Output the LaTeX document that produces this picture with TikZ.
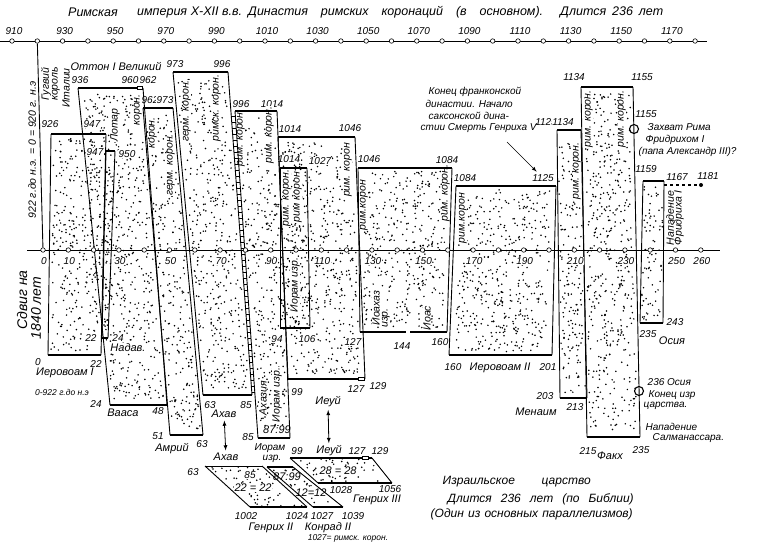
\documentclass[tikz,border=0pt]{standalone}
\usepackage{fontspec}
\setmainfont{Liberation Sans}
\usepackage{tikz}
\usetikzlibrary{arrows,shapes}
\tikzstyle{roman}=[line width=2.4pt]
\tikzstyle{side}=[line width=0.9pt]
\tikzstyle{axis}=[line width=1pt]
\tikzstyle{tick}=[circle,draw,fill=white,line width=0.6pt,minimum size=4.5pt,inner sep=0pt]
\tikzstyle{num}=[fill=white,inner sep=0.5pt,font=\fontsize{10}{11}\selectfont\itshape]
\tikzstyle{lab}=[fill=white,inner sep=0.5pt,font=\fontsize{11}{12}\selectfont\itshape]
\tikzstyle{small}=[fill=white,inner sep=0.5pt,font=\fontsize{8.5}{9}\selectfont\itshape]
\tikzstyle{vlab}=[fill=white,inner sep=0.5pt,rotate=90,font=\fontsize{10.5}{11}\selectfont\itshape]
\tikzstyle{note}=[inner sep=0.5pt,anchor=west,font=\fontsize{10}{11}\selectfont\itshape]
\tikzstyle{ttl}=[inner sep=0pt,anchor=west,font=\fontsize{12.5}{14}\selectfont\itshape]
\tikzstyle{ring}=[circle,draw,line width=1.1pt,minimum size=9pt,inner sep=0pt]
\tikzstyle{arr}=[latex-latex,line width=0.8pt,shorten >=2pt,shorten <=2pt]
% blocks: top left / top right / top y / bottom left / bottom right / bottom y / top edge
\newcommand{\blocks}{51/106/134/48/101/355/roman, 106/115/151/102/108/338/roman,
  78/143/88/110/167/405/roman, 143/173/108/170/203/435/roman,
  173/228/72/203/252/395/roman, 235/277/111/258/290/438/roman,
  278/355/137/288/365/379/roman, 280/307/168/280/310/328/roman,
  358/452/168/360/447/332/roman, 456/556/186/449/552/355/roman,
  557/581/130/560/587/398/roman, 581/633/87/587/640/437/roman,
  643/664/181/640/663/323/roman,
  205/262/466/250/307/507/side, 267/293/467/313/343/507/roman,
  290/372/458/318/392/483/roman}

\begin{document}
\begin{tikzpicture}[x=1pt,y=-1pt]
    \useasboundingbox (0,0) rectangle (759,547);
    % First we stipple every block
    \pgfmathsetseed{1840}
    \foreach \xa/\xb/\ya/\xc/\xd/\yb/\st in \blocks {
        \pgfmathtruncatemacro\nd{(((\xb-\xa)+(\xd-\xc))/80)*(\yb-\ya)}
        \foreach \i in {1,...,\nd} {
            \pgfmathsetmacro\vv{0.02+0.96*rnd}
            \pgfmathsetmacro\uu{0.05+0.9*rnd}
            \pgfmathsetmacro\yy{\ya+\vv*(\yb-\ya)}
            \pgfmathsetmacro\xl{\xa+\vv*(\xc-\xa)}
            \pgfmathsetmacro\xr{\xb+\vv*(\xd-\xb)}
            \fill ({\xl+\uu*(\xr-\xl)},\yy) circle (0.85);
        }
    }
    % Title
    \node[ttl] (t1) at (68,12) {Римская};
    \node[ttl] (t2) at (137,12) {\makebox[105pt][s]{империя X-XII в.в.}};
    \node[ttl] (t3) at (248,12) {\makebox[295pt][s]{Династия римских коронаций (в основном).}};
    \node[ttl] (t4) at (560,12) {\makebox[103pt][s]{Длится 236 лет}};
    % Years of the blocks
    \foreach \pos/\txt [count=\k] in {{(50,124)/926}, {(92,124)/947}, {(95,152)/947}, {(127,154)/950},
        {(80,80)/936}, {(130,80)/960}, {(148,80)/962}, {(175,64)/973}, {(222,64)/996},
        {(150,100)/962}, {(165,100)/973}, {(241,104)/996}, {(272,104)/1014},
        {(290,129)/1014}, {(350,128)/1046}, {(289,159)/1014}, {(320,161)/1027}, {(369,159)/1046},
        {(447,160)/1084}, {(465,178)/1084}, {(546,122)/1125}, {(563,122)/1134},
        {(574,77)/1134}, {(642,77)/1155}, {(646,114)/1155}, {(646,169)/1159}, {(677,177)/1167}, {(708,176)/1181},
        {(38,362)/0}, {(96,364)/22}, {(91,338)/22}, {(118,338)/24}, {(96,404)/24}, {(158,411)/48},
        {(158,436)/51}, {(202,444)/63}, {(210,405)/63}, {(246,405)/85}, {(248,437)/85},
        {(277,339)/94}, {(307,339)/106}, {(297,392)/99}, {(356,389)/127}, {(378,386)/129},
        {(353,342)/127}, {(402,346)/144}, {(440,342)/160}, {(453,367)/160}, {(548,367)/201},
        {(545,396)/203}, {(575,407)/213}, {(675,322)/243}, {(648,334)/235}, {(588,451)/215}, {(641,450)/235},
        {(193,472)/63}, {(250,475)/85}, {(297,451)/99}, {(357,451)/127}, {(380,451)/129},
        {(341,490)/1028}, {(390,489)/1056}, {(246,516)/1002}, {(297,516)/1024}, {(322,516)/1027}, {(353,516)/1039}}
        \node[num] (n\k) at \pos {\txt};
    \node[num] (n1125) at (543,178) {1125};
    % Names of the kings
    \foreach \pos/\txt [count=\k] in {{(116,66)/Оттон I Великий}, {(128,348)/Надав.}, {(123,413)/Вааса},
        {(172,449)/Амрий}, {(65,373)/Иеровоам I},
        {(500,368)/Иеровоам II}, {(536,412)/Менаим}, {(610,456)/Факх}, {(672,341)/Осия},
        {(377,500)/Генрих III}, {(271,528)/Генрих II}, {(328,528)/Конрад II},
        {(253,488)/22 = 22}, {(287,477)/87:99}, {(311,493)/12=12}, {(338,471)/28 = 28}, {(277,430)/87:99}}
        \node[lab] (l\k) at \pos {\txt};
    \node[num] (jor1) at (270,448) {Иорам};
    \node[num] (jor2) at (272,459) {изр.};
    \node[small] (s1) at (62,392) {0-922 г.до н.э};
    \node[small] (s2) at (348,538) {1027= римск. корон.};
    \node[lab] (a1) at (224,414) {Ахав};
    \node[lab] (a2) at (226,457) {Ахав};
    \node[lab] (j1) at (328,402) {Иеуй};
    \node[lab] (j2) at (329,451) {Иеуй};
    % Vertical texts
    \foreach \pos/\txt [count=\k] in {{(46,84)/Гугвий}, {(56,84)/король}, {(66,88)/Италии},
        {(115,125)/Лотар}, {(138,110)/корон.}, {(153,133)/корон.}, {(171,165)/герм. корон.},
        {(187,111)/герм. корон.}, {(217,108)/римск. корон.}, {(241,138)/рим. корон.}, {(270,135)/рим. корон.},
        {(287,198)/рим. корон.}, {(298,197)/рим корон}, {(295,285)/Иорам изр.}, {(348,170)/рим. корон},
        {(364,205)/рим.корон}, {(446,193)/рим. корон.}, {(376,308)/Иоахаз}, {(386,318)/изр.}, {(427,318)/Иоас},
        {(463,218)/рим.корон}, {(577,171)/рим. корон.}, {(589,119)/рим. корон.}, {(622,119)/рим. корон.},
        {(670,218)/Нападение}, {(679,218)/Фридриха I}, {(263,398)/Ахазия}, {(277,395)/Иорам изр.}}
        \node[vlab] (v\k) at \pos {\txt};
    \node[vlab] (v922) at (32,150) {922 г.до н.э. = 0 = 920 г. н.э};
    \node[vlab,font=\fontsize{14}{15}\selectfont\itshape] (v1840a) at (22,300) {Сдвиг на};
    \node[vlab,font=\fontsize{14}{15}\selectfont\itshape] (v1840b) at (36,308) {1840 лет};
    % Notes at the side
    \foreach \pos/\txt [count=\k] in {{(428,92)/Конец франконской}, {(425,104)/династии. Начало},
        {(428,116)/саксонской дина-}, {(420,128)/стии Смерть Генриха V},
        {(647,127)/Захват Рима}, {(645,140)/Фридрихом I}, {(638,152)/(папа Александр III)?},
        {(647,382)/236 Осия}, {(648,395)/Конец изр}, {(643,406)/царства.},
        {(645,427)/Нападение}, {(652,438)/Салманассара.}}
        \node[note] (c\k) at \pos {\txt};
    \node[note,font=\fontsize{12}{13}\selectfont\itshape] (i1) at (442,482) {\makebox[148pt][s]{Израильское царство}};
    \node[note,font=\fontsize{12}{13}\selectfont\itshape] (i2) at (447,499) {\makebox[186pt][s]{Длится 236 лет (по Библии)}};
    \node[note,font=\fontsize{12}{13}\selectfont\itshape] (i3) at (430,514) {\makebox[202pt][s]{(Один из основных параллелизмов)}};
    % Then the outlines of the blocks
    \foreach \xa/\xb/\ya/\xc/\xd/\yb/\st in \blocks {
        \draw[side] (\xa,\ya) -- (\xc,\yb);
        \draw[side] (\xb,\ya) -- (\xd,\yb);
        \draw[\st] (\xa,\ya) -- (\xb,\ya);
        \draw[roman] (\xc,\yb) -- (\xd,\yb);
    }
    % ladder between Ahab and Ahaziah
    \foreach \yy in {116,122,...,392}
        \draw[line width=0.5pt] ({228+(\yy-72)*24/323},\yy) -- ({235+(\yy-111)*23/327},\yy);
    % small gaps in the thick edges
    \fill[white] (405.5,329) rectangle (409.5,335);
    \draw[fill=white,line width=0.5pt] (137,86.5) rectangle (142.5,89.5);
    \draw[fill=white,line width=0.5pt] (358,377.5) rectangle (364,380.5);
    \draw[fill=white,line width=0.5pt] (362,456.5) rectangle (368,459.5);
    % Roman axis
    \draw[axis] (0,41) -- (707,41);
    \foreach \k in {0,...,27}
        \node[tick] (tt\k) at ({12+25.3*\k},41) {};
    \foreach \yr [count=\k] in {910,930,...,1170}
        \node[num] (top\k) at ({14+(\yr-910)*2.53},31) {\yr};
    % Israel axis
    \draw[axis] (27,250) -- (720,250);
    \foreach \k in {0,...,26}
        \node[tick] (bt\k) at ({43+25.3*\k},250) {};
    \foreach \t [count=\k] in {0,10,30,50,70,90,110,130,150,170,190,210,230,250,260}
        \node[num] (bot\k) at ({44+\t*2.53},261) {\t};
    % zero line 922 BC = 920 AD
    \draw[side] (tt1) -- (bt0);
    % marks and connectors
    \node[ring] (o1155) at (634,129) {};
    \node[ring] (o236) at (639,391) {};
    \coordinate (h1167) at (664,185);
    \node[circle,fill,inner sep=0pt,minimum size=4pt] (d1181) at (701,185) {};
    \draw[dashed,line width=1.1pt] (h1167) -- (d1181);
    \draw[arr] (a1) -- (a2);
    \draw[arr] (j1) -- (j2);
    \coordinate (hv) at (507,142);
    \draw[-latex,line width=0.7pt,shorten >=3pt] (hv) -- (n1125);
\end{tikzpicture}
\end{document}
